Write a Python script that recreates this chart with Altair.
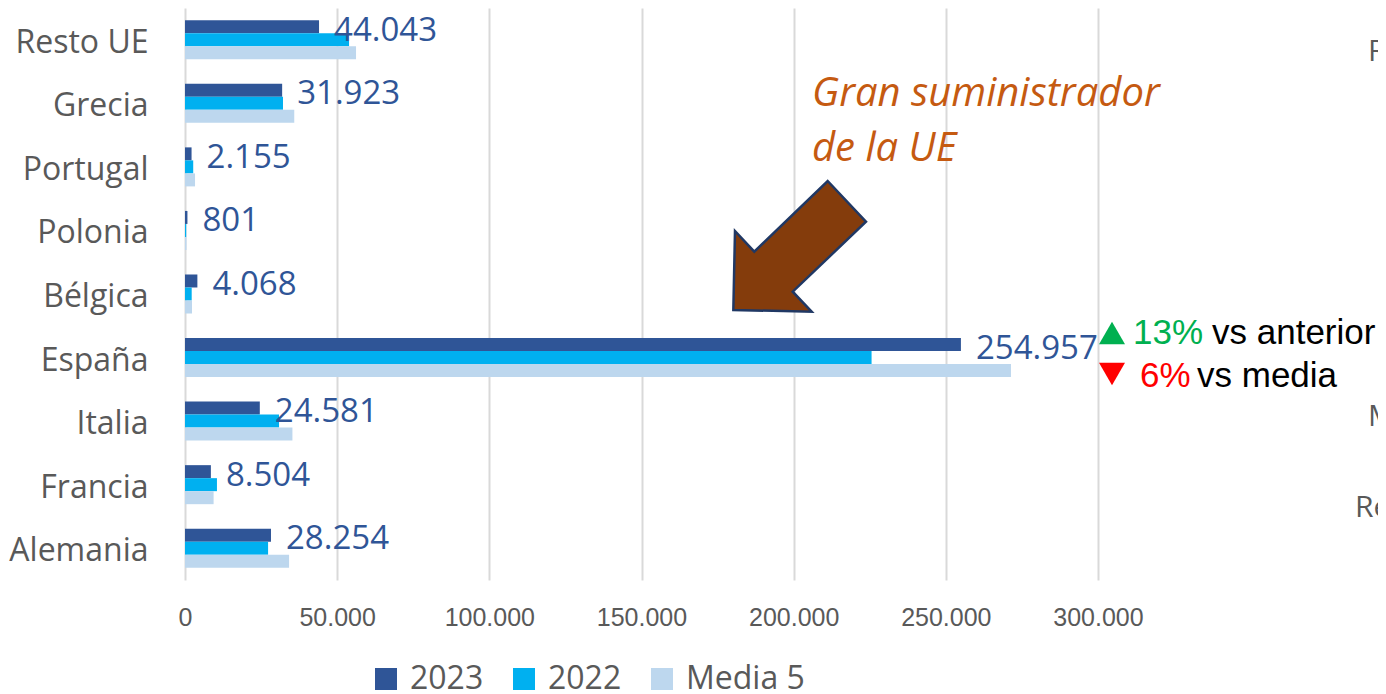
import altair as alt
import pandas as pd

categories = ["Resto UE", "Grecia", "Portugal", "Polonia", "Bélgica",
              "España", "Italia", "Francia", "Alemania"]
series = ["2023", "2022", "Media 5"]
colors = ["#2F5597", "#00B0F0", "#BDD7EE"]
v2023 = [44043, 31923, 2155, 801, 4068, 254957, 24581, 8504, 28254]
v2022 = [53900, 32200, 2700, 400, 2200, 225600, 30900, 10500, 27300]
vmedia = [56200, 35900, 3300, 500, 2300, 271400, 35300, 9400, 34200]
x_ticks = [0, 50000, 100000, 150000, 200000, 250000, 300000]

rows = []
for s, vals in zip(series, [v2023, v2022, vmedia]):
    for c, v in zip(categories, vals):
        rows.append({"pais": c, "serie": s, "valor": v})
df = pd.DataFrame(rows)
df23 = df[df["serie"] == "2023"].copy()

W, H = 913, 572
LBL = "#595959"

y_enc = alt.Y("pais:N", sort=categories,
              scale=alt.Scale(paddingInner=0.386, paddingOuter=0.193),
              axis=alt.Axis(title=None, labelFont="Open Sans", labelFontSize=32,
                            labelColor=LBL, labelPadding=37, labelOffset=3, ticks=False,
                            domain=False, grid=False))
x_enc = alt.X("valor:Q", scale=alt.Scale(domain=[0, 300000], nice=False),
              axis=alt.Axis(title=None, values=x_ticks, grid=True, gridColor="#D9D9D9",
                            gridWidth=2, domain=False, ticks=False, labelFlush=False,
                            labelFont="Liberation Sans", labelFontSize=25,
                            labelColor=LBL, labelPadding=25,
                            labelExpr="replace(format(datum.value, ','), ',', '.')"))
yoff = alt.YOffset("serie:N", sort=series,
                   scale=alt.Scale(domain=series, paddingInner=0, paddingOuter=0))

bars = alt.Chart(df).mark_bar().encode(
    y=y_enc, x=x_enc, yOffset=yoff,
    color=alt.Color("serie:N", sort=series,
                    scale=alt.Scale(domain=series, range=colors),
                    legend=alt.Legend(title=None, orient="none", legendX=185, legendY=655,
                                      direction="horizontal", symbolType="square",
                                      symbolSize=484, symbolStrokeWidth=0,
                                      labelFont="Open Sans", labelFontSize=32,
                                      labelColor=LBL, labelOffset=8, columnPadding=24,
                                      gridAlign="none", labelLimit=300))
)

labels = alt.Chart(df23).transform_calculate(
    lab="replace(format(datum.valor, ','), ',', '.')"
).mark_text(align="left", baseline="middle", dx=15, dy=4, font="Open Sans",
            fontSize=33, color="#2F5597").encode(
    y=alt.Y("pais:N", sort=categories), x="valor:Q", yOffset=yoff, text="lab:N"
)


def txt(s, x, y, color, size, font="Liberation Sans", style="normal", baseline="alphabetic"):
    return alt.Chart(pd.DataFrame({"t": [s]})).mark_text(
        align="left", baseline=baseline, font=font, fontSize=size, color=color,
        fontStyle=style
    ).encode(x=alt.value(x), y=alt.value(y), text="t:N")


arrow_path = ("M0.424,-0.985 L1,-0.373 L-0.102,0.68 L0.183,0.98 "
              "L-0.995,0.955 L-0.97,-0.233 L-0.68,0.078 Z")
arrow = alt.Chart(pd.DataFrame({"a": [0]})).mark_point(
    shape=arrow_path, size=17689, fill="#843C0C", stroke="#203864",
    strokeWidth=2.5, opacity=1, fillOpacity=1
).encode(x=alt.value(614.5), y=alt.value(238.5))

tri_up = alt.Chart(pd.DataFrame({"a": [0]})).mark_point(
    shape="triangle-up", size=676, fill="#00B050", strokeWidth=0, opacity=1, fillOpacity=1
).encode(x=alt.value(927), y=alt.value(325))
tri_down = alt.Chart(pd.DataFrame({"a": [0]})).mark_point(
    shape="triangle-down", size=676, fill="#FF0000", strokeWidth=0, opacity=1, fillOpacity=1
).encode(x=alt.value(927), y=alt.value(366))

layers = [
    bars, labels, arrow, tri_up, tri_down,
    txt("Gran suministrador", 627, 98, "#C55A11", 40, font="Open Sans", style="italic"),
    txt("de la UE", 627, 153, "#C55A11", 40, font="Open Sans", style="italic"),
    txt("13%", 948, 336, "#00B050", 35),
    txt("vs anterior", 1027, 336, "#000000", 35),
    txt("6%", 955, 379, "#FF0000", 35),
    txt("vs media", 1012, 379, "#000000", 35),
    txt("R", 1183, 44, LBL, 30, font="Open Sans", baseline="middle"),
    txt("M", 1183, 409, LBL, 30, font="Open Sans", baseline="middle"),
    txt("Re", 1170, 500, LBL, 30, font="Open Sans", baseline="middle"),
]

chart = alt.layer(*layers).properties(
    width=W, height=H,
    autosize=alt.AutoSizeParams(type="none"),
    padding={"left": 177, "top": 0, "right": 280, "bottom": 114},
).configure(background="white").configure_view(stroke=None)

chart.save("out.html", embed_options={"renderer": "svg", "actions": False})
